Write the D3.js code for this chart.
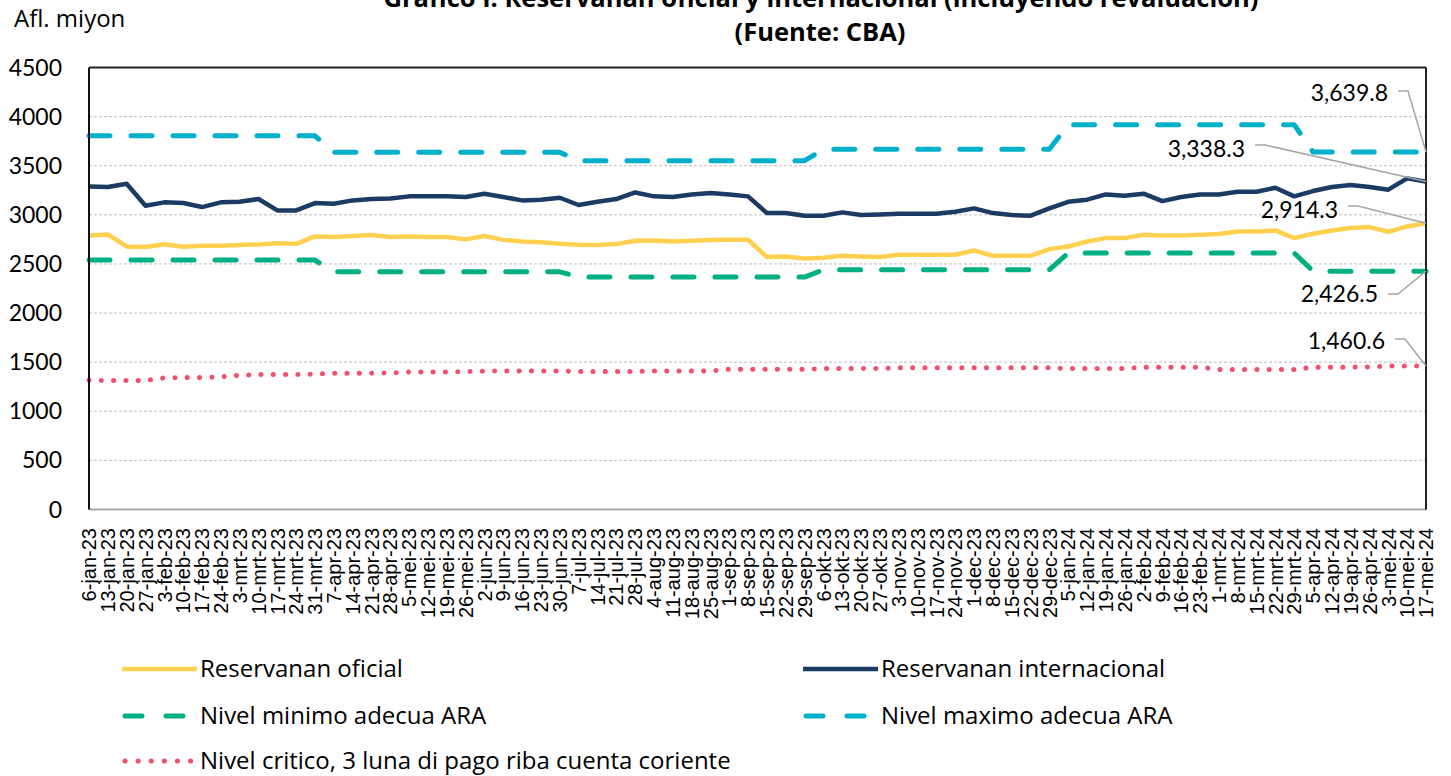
<!DOCTYPE html>
<html>
<head>
<meta charset="utf-8">
<script src="https://cdn.jsdelivr.net/npm/d3@7"></script>
<style>
  body { margin: 0; background: #fff; }
  svg { font-family: "Open Sans", Lato, sans-serif; }
  .xlab { font-family: "Liberation Sans", Arial, sans-serif; font-size: 20px; fill: #000; }
  .ylab { font-family: Lato, sans-serif; font-size: 23px; fill: #000; }
  .legend text { font-size: 24px; fill: #000; }
  .ann { font-family: Lato, sans-serif; font-size: 23px; fill: #000; }
</style>
</head>
<body>
<div id="chart"></div>
<script>
// week labels (Papiamentu months)
var dates = ["6-jan-23","13-jan-23","20-jan-23","27-jan-23","3-feb-23","10-feb-23","17-feb-23","24-feb-23",
  "3-mrt-23","10-mrt-23","17-mrt-23","24-mrt-23","31-mrt-23","7-apr-23","14-apr-23","21-apr-23","28-apr-23",
  "5-mei-23","12-mei-23","19-mei-23","26-mei-23","2-jun-23","9-jun-23","16-jun-23","23-jun-23","30-jun-23",
  "7-jul-23","14-jul-23","21-jul-23","28-jul-23","4-aug-23","11-aug-23","18-aug-23","25-aug-23","1-sep-23",
  "8-sep-23","15-sep-23","22-sep-23","29-sep-23","6-okt-23","13-okt-23","20-okt-23","27-okt-23","3-nov-23",
  "10-nov-23","17-nov-23","24-nov-23","1-dec-23","8-dec-23","15-dec-23","22-dec-23","29-dec-23","5-jan-24",
  "12-jan-24","19-jan-24","26-jan-24","2-feb-24","9-feb-24","16-feb-24","23-feb-24","1-mrt-24","8-mrt-24",
  "15-mrt-24","22-mrt-24","29-mrt-24","5-apr-24","12-apr-24","19-apr-24","26-apr-24","3-mei-24","10-mei-24","17-mei-24"];

var oficial = [2790,2800,2678,2672,2700,2675,2685,2685,2692,2698,2710,2705,2780,2775,2785,2795,2775,2780,2775,2775,2750,2785,
  2745,2729,2722,2705,2695,2692,2702,2736,2739,2729,2736,2743,2746,2746,2570,2576,2556,2563,2583,2576,2570,2593,2593,2593,2593,2637,
  2583,2583,2583,2651,2678,2729,2763,2763,2797,2790,2790,2797,2804,2831,2831,2841,2763,2807,2841,2865,2875,2828,2882,2914.3];

var internacional = [3289,3283,3317,3093,3127,3120,3079,3127,3133,3161,3045,3045,3120,3113,3147,3161,3167,3188,3188,3188,3181,3215,
  3181,3147,3154,3174,3100,3133,3161,3228,3188,3181,3208,3222,3208,3188,3018,3018,2991,2991,3025,2998,3004,3011,3011,3011,3032,3066,
  3018,2998,2991,3066,3133,3154,3208,3195,3215,3140,3181,3208,3208,3235,3235,3276,3188,3242,3283,3303,3283,3256,3371,3338.3];

var minimo = [2539,2539,2539,2539,2539,2539,2539,2539,2539,2539,2539,2539,2539,
  2420,2420,2420,2420,2420,2420,2420,2420,2420,2420,2420,2420,2420,
  2366,2366,2366,2366,2366,2366,2366,2366,2366,2366,2366,2366,2366,
  2441,2441,2441,2441,2441,2441,2441,2441,2441,2441,2441,2441,2441,
  2611,2611,2611,2611,2611,2611,2611,2611,2611,2611,2611,2611,2611,
  2426.5,2426.5,2426.5,2426.5,2426.5,2426.5,2426.5];

var maximo = [3805,3805,3805,3805,3805,3805,3805,3805,3805,3805,3805,3805,3805,
  3636,3636,3636,3636,3636,3636,3636,3636,3636,3636,3636,3636,3636,
  3551,3551,3551,3551,3551,3551,3551,3551,3551,3551,3551,3551,3551,
  3667,3667,3667,3667,3667,3667,3667,3667,3667,3667,3667,3667,3667,
  3918,3918,3918,3918,3918,3918,3918,3918,3918,3918,3918,3918,3918,
  3639.8,3639.8,3639.8,3639.8,3639.8,3639.8,3639.8];

var critico = [1317,1313,1313,1313,1340,1343,1343,1350,1367,1374,1374,1374,1377,1388,1388,1388,1390,1401,1401,1401,1404,1408,
  1411,1411,1411,1411,1404,1404,1404,1404,1411,1411,1411,1411,1428,1428,1428,1428,1428,1435,1435,1435,1437,1442,1442,1442,1442,1442,
  1442,1442,1442,1442,1435,1435,1435,1435,1449,1449,1449,1449,1425,1425,1425,1425,1425,1449,1449,1449,1452,1460,1460,1460.6];

var yTicks = [0,500,1000,1500,2000,2500,3000,3500,4000,4500];

var width = 1451, height = 776;
// plot box (note: "top" is a reserved window global, so keep these in an object)
var plot = {left: 89, right: 1426, top: 67.5, bottom: 509.5};

var svg = d3.select("#chart").append("svg")
    .attr("width", width)
    .attr("height", height);

var x = d3.scalePoint().domain(dates).range([plot.left, plot.right]);
var y = d3.scaleLinear().domain([0, 4500]).range([plot.bottom, plot.top]);

var fmt = d3.format(",.1f");

// series styles
var series = [
  {name: "Nivel critico, 3 luna di pago riba cuenta coriente", values: critico, color: "#f0506e", width: 5, dash: "0.1,12.2", cap: "round"},
  {name: "Nivel minimo adecua ARA", values: minimo, color: "#00b083", width: 5, dash: "21,21", cap: "round"},
  {name: "Nivel maximo adecua ARA", values: maximo, color: "#00b0ca", width: 5, dash: "21,21", cap: "round"},
  {name: "Reservanan oficial", values: oficial, color: "#ffd050", width: 4.5, dash: null, cap: "butt"},
  {name: "Reservanan internacional", values: internacional, color: "#1b3a64", width: 4.5, dash: null, cap: "butt"}
];

// GRIDLINES
svg.append("g").selectAll("line")
    .data(yTicks.filter(function(d){ return d > 0 && d < 4500; }))
    .enter().append("line")
    .attr("x1", plot.left).attr("x2", plot.right)
    .attr("y1", function(d){ return y(d); })
    .attr("y2", function(d){ return y(d); })
    .attr("stroke", "#bdbdbd")
    .attr("stroke-width", 1)
    .attr("stroke-dasharray", "3,2");

// Y TICK LABELS
svg.append("g").selectAll("text")
    .data(yTicks)
    .enter().append("text")
    .attr("class", "ylab")
    .attr("x", 62)
    .attr("y", function(d){ return y(d); })
    .attr("dy", "0.35em")
    .attr("text-anchor", "end")
    .text(function(d){ return d; });

// X LABELS (rotated)
svg.append("g").selectAll("text")
    .data(dates)
    .enter().append("text")
    .attr("class", "xlab")
    .attr("transform", function(d){ return "translate(" + x(d) + ",528) rotate(-90)"; })
    .attr("dy", "0.36em")
    .attr("text-anchor", "end")
    .text(function(d){ return d; });

// LINES
var line = d3.line()
    .x(function(d, i){ return x(dates[i]); })
    .y(function(d){ return y(d); });

svg.append("g").selectAll("path")
    .data(series)
    .enter().append("path")
    .attr("d", function(d){ return line(d.values); })
    .attr("fill", "none")
    .attr("stroke", function(d){ return d.color; })
    .attr("stroke-width", function(d){ return d.width; })
    .attr("stroke-dasharray", function(d){ return d.dash; })
    .attr("stroke-linecap", function(d){ return d.cap; })
    .attr("stroke-linejoin", "round");

// PLOT BORDER
svg.append("line").attr("x1", plot.left).attr("x2", plot.right).attr("y1", plot.bottom).attr("y2", plot.bottom)
    .attr("stroke", "#a6a6a6").attr("stroke-width", 2);
svg.append("line").attr("x1", plot.left).attr("x2", plot.right).attr("y1", plot.top).attr("y2", plot.top)
    .attr("stroke", "#222").attr("stroke-width", 2);
svg.append("line").attr("x1", plot.left).attr("x2", plot.left).attr("y1", plot.top).attr("y2", plot.bottom)
    .attr("stroke", "#111").attr("stroke-width", 2);
svg.append("line").attr("x1", plot.right).attr("x2", plot.right).attr("y1", plot.top).attr("y2", plot.bottom)
    .attr("stroke", "#222").attr("stroke-width", 2);

// END VALUE LABELS WITH LEADERS
var last = dates[dates.length - 1];
var anns = [
  {v: maximo[maximo.length - 1], tx: 1388, ty: 101, ly: 91},
  {v: internacional[internacional.length - 1], tx: 1245, ty: 157, ly: 145},
  {v: oficial[oficial.length - 1], tx: 1338, ty: 218, ly: 206},
  {v: minimo[minimo.length - 1], tx: 1378, ty: 302, ly: 294},
  {v: critico[critico.length - 1], tx: 1385, ty: 349, ly: 339}
];

var ann = svg.append("g");
anns.forEach(function(a){
  ann.append("text").attr("class", "ann")
      .attr("x", a.tx).attr("y", a.ty)
      .attr("text-anchor", "end")
      .text(fmt(a.v));
  ann.append("polyline")
      .attr("points", [[a.tx + 10, a.ly], [a.tx + 20, a.ly], [x(last), y(a.v)]].join(" "))
      .attr("fill", "none")
      .attr("stroke", "#a6a6a6")
      .attr("stroke-width", 1.5);
});

// TITLE
svg.append("text")
    .attr("x", 821).attr("y", 7)
    .attr("text-anchor", "middle")
    .style("font-size", "25.5px").style("font-weight", "bold")
    .text("Grafico I. Reservanan oficial y internacional (incluyendo revaluación)");
svg.append("text")
    .attr("x", 820).attr("y", 41)
    .attr("text-anchor", "middle")
    .style("font-size", "25.5px").style("font-weight", "bold")
    .text("(Fuente: CBA)");

svg.append("text")
    .attr("x", 14).attr("y", 27)
    .style("font-size", "24px")
    .text("Afl. miyon");

// LEGEND
var legendItems = [
  {s: series[3], lx: 122, ly: 669},
  {s: series[4], lx: 803, ly: 669},
  {s: series[1], lx: 122, ly: 716},
  {s: series[2], lx: 803, ly: 716},
  {s: series[0], lx: 122, ly: 761}
];

var legend = svg.append("g").attr("class", "legend");
legendItems.forEach(function(it){
  var s = it.s;
  var dash = s.dash ? (s.dash.indexOf("0.1") === 0 ? "0.1,13" : "17,24") : null;
  legend.append("line")
      .attr("x1", it.lx + (s.dash ? 3 : 0))
      .attr("x2", it.lx + 75)
      .attr("y1", it.ly).attr("y2", it.ly)
      .attr("stroke", s.color)
      .attr("stroke-width", s.width)
      .attr("stroke-linecap", s.cap)
      .attr("stroke-dasharray", dash);
  legend.append("text")
      .attr("x", it.lx + 78).attr("y", it.ly)
      .attr("dy", "0.35em")
      .text(s.name);
});
</script>
</body>
</html>
